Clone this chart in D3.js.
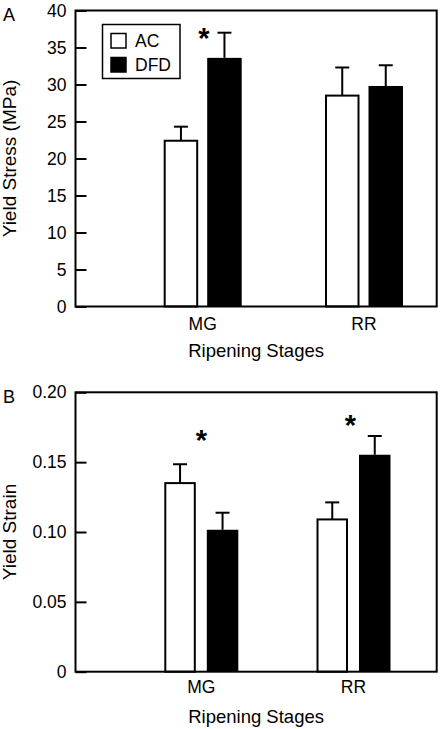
<!DOCTYPE html>
<html>
<head>
<meta charset="utf-8">
<script src="https://cdn.jsdelivr.net/npm/d3@7"></script>
<style>
  html, body { margin: 0; padding: 0; background: #fff; }
  svg { display: block; }
  text { font-family: "Liberation Sans", Arial, Helvetica, sans-serif; fill: #000; }
</style>
</head>
<body>
<svg id="chart" width="442" height="729"></svg>
<script>
// ---------- data ----------
const categories = ["MG", "RR"];
const series = ["AC", "DFD"];

// Panel A: Yield Stress (MPa)
const stressAC = [22.4, 28.5];
const stressACErr = [1.9, 3.8];
const stressDFD = [33.6, 29.8];
const stressDFDErr = [3.4, 2.8];
const stressTicks = [0, 5, 10, 15, 20, 25, 30, 35, 40];
const stressTickLabels = ["0", "5", "10", "15", "20", "25", "30", "35", "40"];

// Panel B: Yield Strain
const strainAC = [0.135, 0.109];
const strainACErr = [0.0135, 0.0122];
const strainDFD = [0.1016, 0.1553];
const strainDFDErr = [0.0122, 0.0134];
const strainTicks = [0, 0.05, 0.10, 0.15, 0.20];
const strainTickLabels = ["0", "0.05", "0.10", "0.15", "0.20"];

// ---------- layout ----------
const svg = d3.select("#chart");

const panels = [
  {
    letter: "A", yTitle: "Yield Stress (MPa)", xTitle: "Ripening Stages",
    ac: stressAC, acErr: stressACErr, dfd: stressDFD, dfdErr: stressDFDErr,
    ticks: stressTicks, tickLabels: stressTickLabels, yMax: 40,
    top: 10.5, bottom: 306.5, left: 75.5, right: 436.7,
    centers: [202.7, 364], barW: 34.5, gap: 9,
    catY: 323.5, titleY: 350.5, letterY: 15, letterX: 3,
    sig: [{ cat: 0, y: 37.09, dx: 1.3 }],
    legend: true
  },
  {
    letter: "B", yTitle: "Yield Strain", xTitle: "Ripening Stages",
    ac: strainAC, acErr: strainACErr, dfd: strainDFD, dfdErr: strainDFDErr,
    ticks: strainTicks, tickLabels: strainTickLabels, yMax: 0.20,
    top: 392.3, bottom: 671.7, left: 75.5, right: 436.7,
    centers: [201.3, 353.5], barW: 31.5, gap: 11,
    catY: 687, titleY: 717, letterY: 397, letterX: 3,
    sig: [{ cat: 0, y: 0.170, dx: 0 }, { cat: 1, y: 0.181, dx: -3 }],
    legend: false
  }
];

panels.forEach(p => {
  const g = svg.append("g");
  const y = d3.scaleLinear().domain([0, p.yMax]).range([p.bottom, p.top]);
  const x = d3.scaleOrdinal().domain(categories).range(p.centers);
  const inner = d3.scaleBand().domain(series)
    .range([-(p.barW + p.gap / 2), p.barW + p.gap / 2])
    .paddingInner(p.gap / (p.barW + p.gap)).paddingOuter(0);

  // y axis with inward ticks
  const axis = d3.axisLeft(y)
    .tickValues(p.ticks)
    .tickFormat((d, i) => p.tickLabels[i])
    .tickSizeInner(-11).tickSizeOuter(0).tickPadding(9);
  const ag = g.append("g").attr("transform", `translate(${p.left},0)`).call(axis);
  ag.select(".domain").remove();
  ag.selectAll(".tick line").attr("stroke", "#000").attr("stroke-width", 2);
  ag.selectAll(".tick text").style("font-size", "17.5px")
    .style("font-family", "'Liberation Sans', Arial, sans-serif");

  // bars
  const rows = categories.map((c, i) => [
    { cat: c, s: "AC", v: p.ac[i], e: p.acErr[i] },
    { cat: c, s: "DFD", v: p.dfd[i], e: p.dfdErr[i] }
  ]).flat();

  // error bars (upper only)
  const eg = g.append("g");
  rows.forEach(r => {
    const cx = x(r.cat) + inner(r.s) + inner.bandwidth() / 2;
    eg.append("line").attr("x1", cx).attr("x2", cx)
      .attr("y1", y(r.v)).attr("y2", y(r.v + r.e))
      .attr("stroke", "#000").attr("stroke-width", 2);
    eg.append("line").attr("x1", cx - 7).attr("x2", cx + 7)
      .attr("y1", y(r.v + r.e)).attr("y2", y(r.v + r.e))
      .attr("stroke", "#000").attr("stroke-width", 2);
  });

  g.append("g").selectAll("rect").data(rows).join("rect")
    .attr("x", d => x(d.cat) + inner(d.s) + (d.s === "AC" ? 1 : 0))
    .attr("width", d => inner.bandwidth() - (d.s === "AC" ? 2 : 0))
    .attr("y", d => y(d.v))
    .attr("height", d => y(0) - y(d.v))
    .attr("fill", d => d.s === "AC" ? "#fff" : "#000")
    .attr("stroke", "#000")
    .attr("stroke-width", d => d.s === "AC" ? 2 : 0);

  // frame
  g.append("rect").attr("x", p.left).attr("y", p.top)
    .attr("width", p.right - p.left).attr("height", p.bottom - p.top)
    .attr("fill", "none").attr("stroke", "#000").attr("stroke-width", 2);

  // significance asterisks
  g.append("g").selectAll("text").data(p.sig).join("text")
    .attr("x", d => x(categories[d.cat]) + d.dx)
    .attr("y", d => y(d.y) + 16)
    .attr("text-anchor", "middle")
    .style("font-size", "29px").style("font-weight", "bold")
    .text("*");

  // category labels
  g.append("g").selectAll("text").data(categories).join("text")
    .attr("x", d => x(d)).attr("y", p.catY).attr("dy", "0.35em")
    .attr("text-anchor", "middle").style("font-size", "17.5px").text(d => d);

  // axis titles
  g.append("text").attr("x", (p.left + p.right) / 2).attr("y", p.titleY).attr("dy", "0.35em")
    .attr("text-anchor", "middle").style("font-size", "18.5px").text(p.xTitle);
  g.append("text")
    .attr("transform", `translate(9,${(p.top + p.bottom) / 2}) rotate(-90)`)
    .attr("dy", "0.35em").attr("text-anchor", "middle")
    .style("font-size", "19px").text(p.yTitle);

  // panel letter
  g.append("text").attr("x", p.letterX).attr("y", p.letterY).attr("dy", "0.35em")
    .style("font-size", "18px").text(p.letter);

  // legend
  if (p.legend) {
    const lg = g.append("g");
    lg.append("rect").attr("x", 102.5).attr("y", 24.5).attr("width", 77.5).attr("height", 54)
      .attr("fill", "#fff").attr("stroke", "#000").attr("stroke-width", 1.5);
    series.forEach((s, i) => {
      const yy = 33.5 + i * 24;
      lg.append("rect").attr("x", 111).attr("y", yy).attr("width", 15).attr("height", 14.5)
        .attr("fill", s === "AC" ? "#fff" : "#000").attr("stroke", "#000").attr("stroke-width", 1.5);
      lg.append("text").attr("x", 135).attr("y", yy + 7.5).attr("dy", "0.35em")
        .style("font-size", "17.5px").text(s);
    });
  }
});
</script>
</body>
</html>
